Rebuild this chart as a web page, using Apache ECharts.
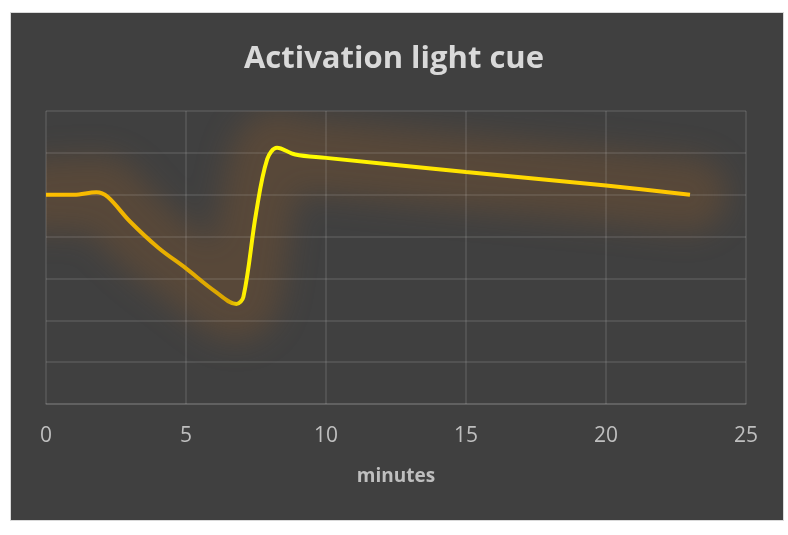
<!DOCTYPE html>
<html>
<head>
<meta charset="utf-8">
<script src="https://cdn.jsdelivr.net/npm/echarts@6/dist/echarts.min.js"></script>
<style>
html,body{margin:0;padding:0;background:#ffffff;}
#wrap{position:relative;width:788px;height:535px;overflow:hidden;}
#panel{position:absolute;left:10px;top:12px;width:772px;height:507px;background:#404040;border:1px solid #d9d9d9;}
#glow{position:absolute;left:0;top:0;width:788px;height:535px;filter:blur(15px);pointer-events:none;}
#glowclip{position:absolute;left:0;top:0;width:788px;height:535px;clip-path:inset(111px 42px 131px 46px);pointer-events:none;}
#chart{position:absolute;left:0;top:0;width:788px;height:535px;}
</style>
</head>
<body>
<div id="wrap">
  <div id="panel"></div>
  <div id="glowclip"><div id="glow"></div></div>
  <div id="chart"></div>
</div>
<script>
var titleText = "Activation light cue";
var xAxisName = "minutes";
var minutes = [0, 1, 1.8, 2.2, 3, 4, 5, 6, 6.8, 7.05, 7.5, 7.9, 8.25, 8.9, 10, 15, 20, 23];
var cueValues = [50, 50, 50.6, 49.5, 43.6, 37.4, 32.4, 27.1, 23.9, 25.6, 45.5, 58.5, 61.2, 59.6, 58.8, 55.4, 52.2, 50];
var xTicks = [0, 5, 10, 15, 20, 25];

var seriesData = minutes.map(function (m, i) { return [m, cueValues[i]]; });
var gridBox = {left: 46, right: 42, top: 111, bottom: 131, containLabel: false};

// soft glow layer (blurred by CSS, clipped to the plot area)
var glow = echarts.init(document.getElementById('glow'), null, {renderer: 'canvas'});
glow.setOption({
  backgroundColor: 'transparent',
  animation: false,
  grid: gridBox,
  xAxis: {type: 'value', min: 0, max: 25, interval: 5, show: false},
  yAxis: {type: 'value', min: 0, max: 70, interval: 10, show: false},
  series: [{
    type: 'line', data: seriesData, smooth: 0.35, showSymbol: false, symbol: 'none', silent: true,
    lineStyle: {width: 74, cap: 'round', join: 'round', color: 'rgba(152,92,40,0.28)'}
  }]
});

var gridLineColor = 'rgba(255,255,255,0.13)';
var chart = echarts.init(document.getElementById('chart'), null, {renderer: 'canvas'});
chart.setOption({
  backgroundColor: 'transparent',
  animation: false,
  title: {
    text: titleText, left: 'center', top: 39,
    textStyle: {fontFamily: 'Open Sans', fontWeight: 'bold', fontSize: 31, color: '#d9d9d9'}
  },
  grid: gridBox,
  xAxis: {
    type: 'value', min: 0, max: 25, interval: 5,
    name: xAxisName, nameLocation: 'middle', nameGap: 63,
    nameTextStyle: {fontFamily: 'Open Sans', fontWeight: 'bold', fontSize: 19, color: '#bfbfbf'},
    axisLine: {show: true, lineStyle: {color: gridLineColor, width: 1.5}},
    axisTick: {show: false},
    axisLabel: {
      margin: 22, fontFamily: 'Open Sans', fontSize: 21, color: '#bfbfbf',
      formatter: function (v) { return xTicks.indexOf(v) >= 0 ? String(v) : ''; }
    },
    splitLine: {show: true, lineStyle: {color: gridLineColor, width: 1.5}}
  },
  yAxis: {
    type: 'value', min: 0, max: 70, interval: 10,
    axisLine: {show: false}, axisTick: {show: false}, axisLabel: {show: false},
    splitLine: {show: true, lineStyle: {color: gridLineColor, width: 1.5}}
  },
  series: [{
    name: 'cue', type: 'line', data: seriesData, smooth: 0.35, showSymbol: false, symbol: 'none', z: 3,
    lineStyle: {
      width: 4,
      color: new echarts.graphic.LinearGradient(0, 0, 1, 0, [
        {offset: 0, color: '#FFC000'},
        {offset: 0.2, color: '#E6AE00'},
        {offset: 0.285, color: '#D9A600'},
        {offset: 0.31, color: '#FFF200'},
        {offset: 0.4, color: '#FFFF00'},
        {offset: 0.6, color: '#FFE600'},
        {offset: 1, color: '#FFC400'}
      ])
    }
  }]
});
</script>
</body>
</html>
